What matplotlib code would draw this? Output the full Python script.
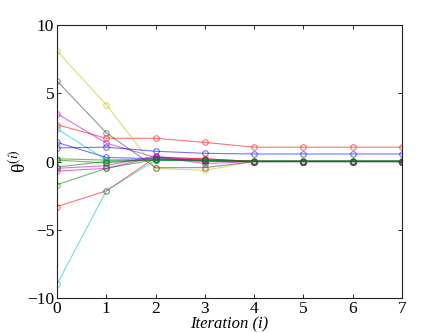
import numpy as np
import matplotlib
matplotlib.use("Agg")
import matplotlib.pyplot as plt

plt.rcParams['font.family'] = ['Liberation Serif', 'DejaVu Serif']
plt.rcParams['mathtext.fontset'] = 'stix'

iterations = [0, 1, 2, 3, 4, 5, 6, 7]

# parameter trajectories theta^(i), one list per parameter
theta_b1 = [1.4, 0.3, 0.2, 0.1, 0.0, 0.0, 0.0, 0.0]
theta_g1 = [0.2, 0.1, 0.1, 0.05, 0.0, 0.0, 0.0, 0.0]
theta_r1 = [2.7, 1.7, 1.7, 1.4, 1.05, 1.05, 1.05, 1.05]
theta_c1 = [2.4, 0.1, 0.2, 0.1, 0.0, 0.0, 0.0, 0.0]
theta_m1 = [3.5, 1.35, 0.3, 0.2, 0.0, 0.0, 0.0, 0.0]
theta_y1 = [8.1, 4.15, -0.5, -0.65, 0.0, 0.0, 0.0, 0.0]
theta_k1 = [5.9, 2.1, -0.45, -0.45, 0.0, 0.0, 0.0, 0.0]
theta_b2 = [1.0, 1.05, 0.75, 0.6, 0.55, 0.55, 0.55, 0.55]
theta_g2 = [0.1, -0.1, 0.2, 0.1, 0.05, 0.05, 0.05, 0.05]
theta_r2 = [-3.3, -2.15, 0.3, 0.2, 0.0, 0.0, 0.0, 0.0]
theta_c2 = [-9.0, -2.15, 0.1, 0.05, 0.0, 0.0, 0.0, 0.0]
theta_m2 = [-0.5, -0.3, 0.4, 0.0, 0.0, 0.0, 0.0, 0.0]
theta_g3 = [-0.4, 0.0, 0.1, 0.05, 0.0, 0.0, 0.0, 0.0]
theta_m3 = [-0.7, -0.5, 0.35, -0.15, 0.0, 0.0, 0.0, 0.0]
theta_g4 = [-1.7, -0.5, 0.15, 0.1, 0.05, 0.05, 0.05, 0.05]

series = [
    (theta_b1, 'b'), (theta_g1, 'g'), (theta_r1, 'r'), (theta_c1, 'c'),
    (theta_m1, 'm'), (theta_y1, 'y'), (theta_k1, 'k'), (theta_b2, 'b'),
    (theta_g2, 'g'), (theta_r2, 'r'), (theta_c2, 'c'), (theta_m2, 'm'),
    (theta_g3, 'g'), (theta_m3, 'm'), (theta_g4, 'g'),
]
colors = {'b': '#0000ff', 'g': '#008000', 'r': '#ff0000', 'c': '#00bfbf',
          'm': '#bf00bf', 'y': '#bfbf00', 'k': '#404040'}

fig = plt.figure(figsize=(4.43, 3.33), dpi=100)
ax = fig.add_axes([0.1287, 0.105, 0.7787, 0.82])

for vals, c in series:
    ax.plot(iterations, vals, color=colors[c], lw=0.8, alpha=0.55,
            marker='o', ms=4, mfc='none', mew=0.8)

ax.set_xlim(0, 7)
ax.set_ylim(-10, 10)
ax.set_xticks(iterations)
ax.set_yticks([-10, -5, 0, 5, 10])
ax.tick_params(direction='in', top=True, right=True, labelsize=12.5,
               length=3, width=0.6, pad=2)
for s in ax.spines.values():
    s.set_linewidth(0.8)
    s.set_color('#222222')

ax.set_xlabel('Iteration (i)', fontsize=12, style='italic', labelpad=0)
ax.set_ylabel('θ$^{(i)}$', fontsize=14, labelpad=-2)

fig.savefig('out.png', dpi=100)
